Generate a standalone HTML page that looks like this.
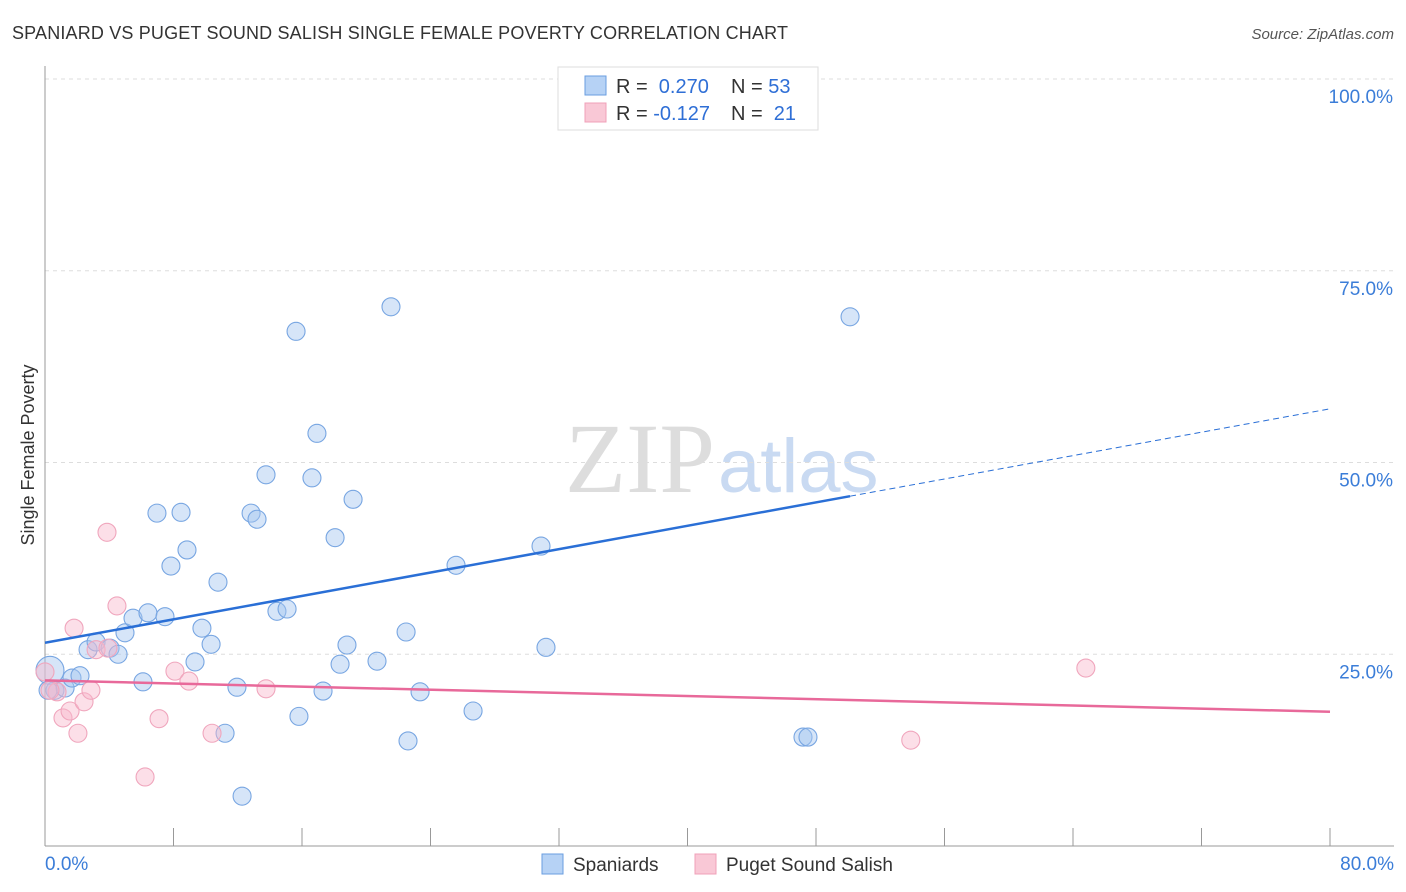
<!DOCTYPE html>
<html><head><meta charset="utf-8"><style>
body{margin:0;background:#fff;font-family:"Liberation Sans",sans-serif;}
svg{display:block}
</style></head><body>
<svg id="chart" width="1406" height="892">
<text x="12" y="39" font-size="18" fill="#333" textLength="776">SPANIARD VS PUGET SOUND SALISH SINGLE FEMALE POVERTY CORRELATION CHART</text>
<text x="1394" y="39" font-size="15" fill="#555" font-style="italic" text-anchor="end">Source: ZipAtlas.com</text>
<text x="715" y="492" font-size="100" fill="#ddd" text-anchor="end" font-family="Liberation Serif,serif">ZIP</text>
<text x="718" y="492" font-size="76" fill="#c9daf2">atlas</text>
<text transform="translate(34,455) rotate(-90)" font-size="18" fill="#333" text-anchor="middle">Single Female Poverty</text>
<g id="grid"></g><g id="marks"></g>
<g>
<rect x="558" y="67" width="260" height="63" fill="#fff" stroke="#ddd"/>
<rect x="585" y="76" width="21" height="19" fill="#b6d2f5" stroke="#6a9ee0"/>
<rect x="585" y="103" width="21" height="19" fill="#f9c8d6" stroke="#f0a0b8"/>
<text x="616" y="93" font-size="20" fill="#333">R = <tspan fill="#2f6fd6">&#160;0.270</tspan><tspan x="731">N = </tspan><tspan fill="#2f6fd6">53</tspan></text>
<text x="616" y="120" font-size="20" fill="#333">R = <tspan fill="#2f6fd6">-0.127</tspan><tspan x="731">N = </tspan><tspan fill="#2f6fd6">&#160;21</tspan></text>
</g>
<g>
<rect x="542" y="854" width="21" height="20" fill="#b6d2f5" stroke="#6a9ee0"/>
<text x="573" y="871" font-size="19" fill="#333">Spaniards</text>
<rect x="695" y="854" width="21" height="20" fill="#f9c8d6" stroke="#f0a0b8"/>
<text x="726" y="871" font-size="19" fill="#333">Puget Sound Salish</text>
</g>
</svg>
<script>
const xTicks=[0,8,16,24,32,40,48,56,64,72,80];
const yTicks=[25,50,75,100];
const yTickLabels=["25.0%","50.0%","75.0%","100.0%"];
const blueX=[0.31,0.62,1.25,1.68,2.18,2.68,3.18,4.05,4.55,4.98,5.48,6.10,6.41,6.97,7.47,7.84,8.47,8.84,9.34,9.77,10.34,10.77,11.21,11.95,12.27,12.83,13.20,13.76,14.44,15.07,15.63,15.81,16.62,16.93,17.31,18.06,18.37,18.80,19.18,20.67,21.54,22.48,22.60,23.35,25.59,26.65,30.88,31.19,37.11,47.19,47.50,50.12,0.19];
const blueY=[22.9,20.3,20.6,21.9,22.2,25.6,26.6,25.8,25.0,27.8,29.7,21.4,30.4,43.4,29.9,36.5,43.5,38.6,24.0,28.4,26.3,34.4,14.7,20.7,6.5,43.4,42.6,48.4,30.6,30.9,67.1,16.9,48.0,53.8,20.2,40.2,23.7,26.2,45.2,24.1,70.3,27.9,13.7,20.1,36.6,17.6,39.1,25.9,100,14.2,14.2,69.0,20.3];
const pinkX=[0,0.75,1.12,1.56,1.81,2.05,2.43,2.86,3.18,3.92,3.86,4.48,6.23,7.10,8.09,8.96,10.40,13.76,64.8,53.9,0.31];
const pinkY=[22.7,20.1,16.7,17.6,28.4,14.7,18.8,20.3,25.6,25.8,40.9,31.3,9.0,16.6,22.8,21.5,14.7,20.5,23.2,13.8,20.3];
const blueTrend=[26.5,57.0];
const blueSolidEnd=50.12;
const pinkTrend=[21.6,17.5];
const NS="http://www.w3.org/2000/svg";
const X=v=>45+v/80*1285, Y=v=>846-v*7.67;
function mk(tag,attrs,parent){const e=document.createElementNS(NS,tag);for(const k in attrs)e.setAttribute(k,attrs[k]);parent.appendChild(e);return e;}
const grid=document.getElementById('grid'),marks=document.getElementById('marks');
yTicks.forEach((t,i)=>{
 const l=mk('line',{x1:45,x2:1394,y1:Y(t),y2:Y(t),stroke:'#ddd','stroke-dasharray':'4,4'},grid);
 
 
 const tx=mk('text',{x:1393,y:Y(t)+24,'font-size':19,fill:'#3b7dd8','text-anchor':'end'},grid);
 tx.textContent=yTickLabels[i];
 
 
});
const ax=mk('line',{x1:45,x2:45,y1:66,y2:846,stroke:'#999'},grid);


const bx=mk('line',{x1:45,x2:1394,y1:846,y2:846,stroke:'#999'},grid);


xTicks.forEach(t=>{
 const l=mk('line',{x1:X(t),x2:X(t),y1:828,y2:846,stroke:'#999'},grid);
 
 
});
const xl0=mk('text',{x:45,y:870,'font-size':19,fill:'#3b7dd8'},grid);xl0.textContent='0.0%';


const xl1=mk('text',{x:1394,y:870,'font-size':19,fill:'#3b7dd8','text-anchor':'end'},grid);xl1.textContent='80.0%';


blueX.forEach((x,i)=>{
 const c=mk('circle',{cx:X(x),cy:Y(blueY[i]),r:(i===0?14:9),fill:'rgba(165,198,240,0.45)',stroke:'#78a6e2','stroke-width':1.1},marks);
 
 
});
pinkX.forEach((x,i)=>{
 const c=mk('circle',{cx:X(x),cy:Y(pinkY[i]),r:9,fill:'rgba(248,185,205,0.45)',stroke:'#f0a6bd','stroke-width':1.1},marks);
 
 
});
const bt=v=>blueTrend[0]+(blueTrend[1]-blueTrend[0])*v/80;
const b1=mk('line',{x1:X(0),y1:Y(bt(0)),x2:X(blueSolidEnd),y2:Y(bt(blueSolidEnd)),stroke:'#2a6fd6','stroke-width':2.5},marks);


const b2=mk('line',{x1:X(blueSolidEnd),y1:Y(bt(blueSolidEnd)),x2:X(80),y2:Y(bt(80)),stroke:'#2a6fd6','stroke-width':1,'stroke-dasharray':'6,4'},marks);


const p1=mk('line',{x1:X(0),y1:Y(pinkTrend[0]),x2:X(80),y2:Y(pinkTrend[1]),stroke:'#e8699a','stroke-width':2.5},marks);


</script>
</body></html>
